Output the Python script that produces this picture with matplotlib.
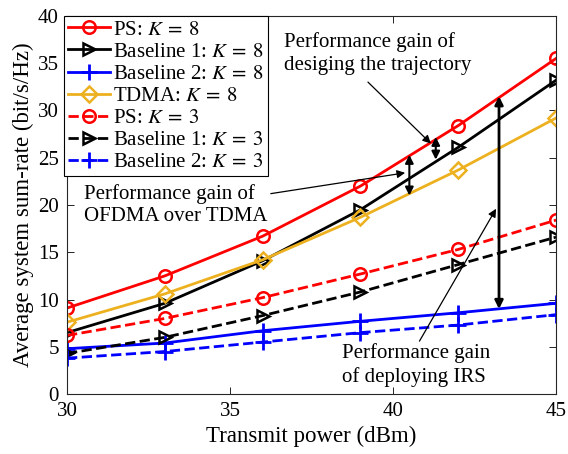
import matplotlib
matplotlib.use("Agg")
from matplotlib import pyplot as plt

plt.rcParams['font.family'] = ['Liberation Serif', 'DejaVu Serif']
plt.rcParams['mathtext.fontset'] = 'stix'

# 发射功率 (dBm)
power = [30, 33, 36, 39, 42, 45]

# K = 8
ps_k8 = [9.1, 12.5, 16.7, 22.0, 28.4, 35.5]
base1_k8 = [6.5, 9.6, 14.1, 19.5, 26.1, 33.2]
base2_k8 = [4.8, 5.4, 6.7, 7.7, 8.6, 9.6]
tdma_k8 = [7.6, 10.6, 14.2, 18.7, 23.7, 29.2]

# K = 3
ps_k3 = [6.2, 8.0, 10.2, 12.7, 15.3, 18.4]
base1_k3 = [4.3, 6.0, 8.3, 10.8, 13.7, 16.6]
base2_k3 = [3.8, 4.5, 5.5, 6.5, 7.3, 8.4]

yellow = '#EDB120'
kk8 = r'$K\:=\:8$'
kk3 = r'$K\:=\:3$'

fig = plt.figure(figsize=(5.68, 4.54), dpi=100)
ax = fig.add_axes([0.118, 0.132, 0.861, 0.833])

lw = 2
ms = 9
ax.plot(power, ps_k8, '-o', color='r', lw=lw, ms=ms, mfc='none', mew=1.8, label='PS: ' + kk8)
ax.plot(power, base1_k8, '->', color='k', lw=lw, ms=ms, mfc='none', mew=1.8, label='Baseline 1: ' + kk8)
ax.plot(power, base2_k8, '-+', color='b', lw=lw, ms=11, mew=2, label='Baseline 2: ' + kk8)
ax.plot(power, tdma_k8, '-D', color=yellow, lw=lw, ms=8, mfc='none', mew=1.8, label='TDMA: ' + kk8)
ax.plot(power, ps_k3, '--o', color='r', lw=lw, ms=ms, mfc='none', mew=1.8, label='PS: ' + kk3)
ax.plot(power, base1_k3, '-->', color='k', lw=lw, ms=ms, mfc='none', mew=1.8, label='Baseline 1: ' + kk3)
ax.plot(power, base2_k3, '--+', color='b', lw=lw, ms=11, mew=2, label='Baseline 2: ' + kk3)

ax.set_xlim(30, 45)
ax.set_ylim(0, 40)
ax.set_xticks([30, 35, 40, 45])
ax.set_yticks(range(0, 41, 5))
ax.tick_params(direction='in', top=True, right=True, labelsize=15, length=5, width=0.6, pad=6)
for s in ax.spines.values():
    s.set_linewidth(0.8)
    s.set_color('#262626')
ax.set_xlabel('Transmit power (dBm)', fontsize=16.5, labelpad=3)
ax.set_ylabel('Average system sum-rate (bit/s/Hz)', fontsize=16.5, labelpad=3)

leg = ax.legend(loc='upper left', bbox_to_anchor=(-0.006, 1.0), fontsize=15,
                fancybox=False, edgecolor='k', framealpha=1, borderaxespad=0,
                handlelength=2.0, labelspacing=0.12, borderpad=0.2, handletextpad=0.15)
leg.get_frame().set_linewidth(0.8)

# 双向箭头
dbl = dict(arrowstyle='<|-|>', color='k', lw=1.5, mutation_scale=12, shrinkA=0, shrinkB=0)
ax.annotate('', xy=(41.31, 24.8), xytext=(41.31, 27.2), arrowprops=dbl)
ax.annotate('', xy=(40.5, 21.0), xytext=(40.5, 25.3), arrowprops=dbl)
ax.annotate('', xy=(43.25, 9.0), xytext=(43.25, 31.5),
            arrowprops=dict(dbl, lw=2))

# 文字说明
one = dict(arrowstyle='-|>', color='k', lw=0.9, mutation_scale=12, shrinkA=0, shrinkB=0)
ax.annotate('', xy=(41.16, 26.5), xytext=(39.23, 33.0), arrowprops=one)
ax.text(36.66, 36.0, 'Performance gain of\ndesiging the trajectory', fontsize=15,
        ha='left', va='center', linespacing=1.25)
ax.annotate('', xy=(40.37, 23.4), xytext=(36.25, 21.2), arrowprops=one)
ax.text(30.52, 20.0, 'Performance gain of\nOFDMA over TDMA', fontsize=15,
        ha='left', va='center', linespacing=1.25)
ax.annotate('', xy=(43.16, 19.6), xytext=(40.81, 5.6), arrowprops=one)
ax.text(38.43, 3.1, 'Performance gain\nof deploying IRS', fontsize=15,
        ha='left', va='center', linespacing=1.25)

fig.savefig('out.png', dpi=100)
